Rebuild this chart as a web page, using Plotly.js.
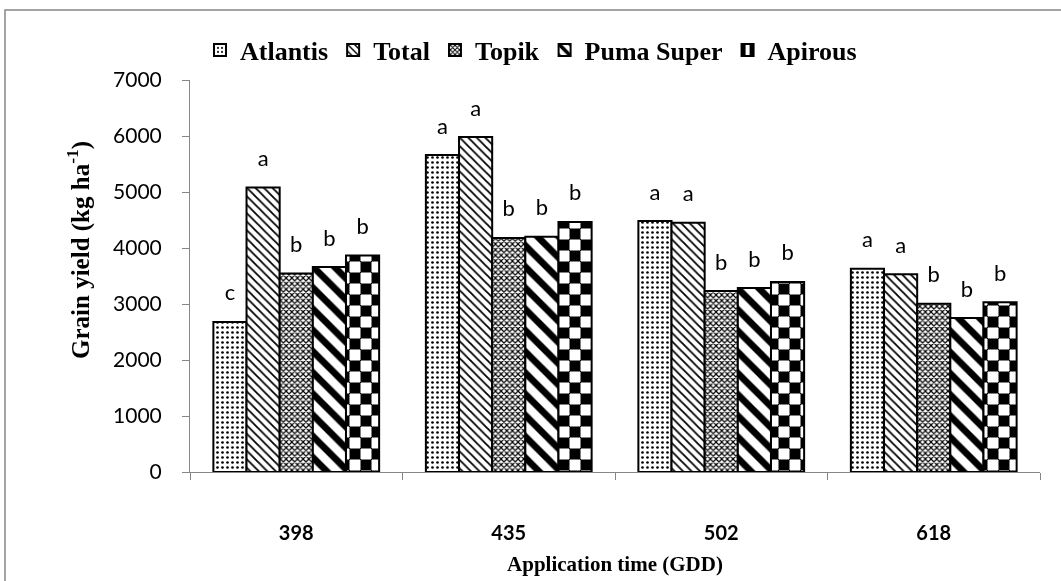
<!DOCTYPE html>
<html>
<head>
<meta charset="utf-8">
<script src="https://cdn.plot.ly/plotly-3.0.1.min.js"></script>
<style>
html,body{margin:0;padding:0;background:#fff;}
#chart{width:1061px;height:581px;}
</style>
</head>
<body>
<div id="chart"></div>
<script>
const categories = ['398', '435', '502', '618'];
const seriesNames = ['Atlantis', 'Total', 'Topik', 'Puma Super', 'Apirous'];
const atlantis  = [2680, 5660, 4480, 3630];
const total     = [5080, 5980, 4450, 3530];
const topik     = [3545, 4180, 3230, 3005];
const pumaSuper = [3660, 4200, 3285, 2750];
const apirous   = [3865, 4465, 3395, 3030];
const letAtlantis  = ['c', 'a', 'a', 'a'];
const letTotal     = ['a', 'a', 'a', 'a'];
const letTopik     = ['b', 'b', 'b', 'b'];
const letPumaSuper = ['b', 'b', 'b', 'b'];
const letApirous   = ['b', 'b', 'b', 'b'];

const values = [atlantis, total, topik, pumaSuper, apirous];
const letters = [letAtlantis, letTotal, letTopik, letPumaSuper, letApirous];
const patterns = [
  {shape: '.', size: 5, solidity: 0.22, fgcolor: '#000', bgcolor: '#fff'},
  {shape: '\\', size: 6, solidity: 0.3, fgcolor: '#000', bgcolor: '#fff'},
  {shape: 'x', size: 4, solidity: 0.5, fgcolor: '#000', bgcolor: '#fff'},
  {shape: '\\', size: 15, solidity: 0.45, fgcolor: '#000', bgcolor: '#fff'},
  {shape: '|', size: 22, solidity: 0.5, fgcolor: '#000', bgcolor: '#fff'}
];

const traces = [];
seriesNames.forEach((name, i) => {
  traces.push({
    type: 'bar', name: name, x: categories, y: values[i],
    offsetgroup: 'g' + i,
    marker: {color: '#fff', line: {color: '#000', width: 2}, pattern: patterns[i]},
    hoverinfo: 'y'
  });
});
// second layer for Apirous: horizontal bands blended by "difference" -> checkerboard
traces.push({
  type: 'bar', name: 'Apirous', x: categories, y: apirous,
  offsetgroup: 'g4', showlegend: false,
  marker: {color: '#000', line: {color: '#000', width: 2},
    pattern: {shape: '-', size: 22, solidity: 0.5, fgcolor: '#fff', bgcolor: '#000'}},
  hoverinfo: 'skip'
});
seriesNames.forEach((name, i) => {
  traces.push({
    type: 'scatter', mode: 'markers+text', x: categories, y: values[i],
    offsetgroup: 'g' + i, orientation: 'v',
    text: letters[i], textposition: 'top center',
    textfont: {family: 'Lato, "Open Sans", sans-serif', size: 22, color: '#000'},
    marker: {size: 24, color: 'rgba(0,0,0,0)'},
    showlegend: false, hoverinfo: 'skip', cliponaxis: false
  });
});

const L = 190, R = 1040, T = 80, B = 472;
const W = R - L, H = B - T;
const px = v => (v - L) / W;
const py = v => (B - v) / H;

const layout = {
  width: 1061, height: 581,
  margin: {l: L, r: 1061 - R, t: T, b: 581 - B, pad: 0},
  paper_bgcolor: '#fff', plot_bgcolor: '#fff',
  barmode: 'group', bargap: 0.22, bargroupgap: 0,
  scattermode: 'group', scattergap: 0.22,
  showlegend: true,
  legend: {
    orientation: 'h', x: px(200), xanchor: 'left', y: py(50), yanchor: 'middle',
    font: {family: '"Liberation Serif", "Times New Roman", serif', size: 26, color: '#000', weight: 'bold'},
    itemwidth: 30, tracegroupgap: 0, bgcolor: 'rgba(0,0,0,0)'
  },
  xaxis: {
    type: 'category', showgrid: false, showline: true, linecolor: '#868686', linewidth: 1,
    ticks: 'outside', tickson: 'boundaries', ticklen: 7, tickcolor: '#868686',
    ticklabelstandoff: 43,
    tickfont: {family: 'Lato, "Open Sans", sans-serif', size: 20, color: '#000', weight: 'bold'},
    title: {text: 'Application time (GDD)', standoff: 13,
      font: {family: '"Liberation Serif", "Times New Roman", serif', size: 21, color: '#000', weight: 'bold'}},
    automargin: false, fixedrange: true
  },
  yaxis: {
    range: [0, 7000], dtick: 1000, showgrid: false, zeroline: false,
    showline: true, linecolor: '#868686', linewidth: 1,
    ticks: 'outside', ticklen: 7, tickcolor: '#868686', ticklabelstandoff: 16,
    tickfont: {family: 'Lato, "Open Sans", sans-serif', size: 21, color: '#000'},
    automargin: false, fixedrange: true
  },
  annotations: [{
    text: 'Grain yield (kg ha<sup>-1</sup>)', textangle: -90, showarrow: false,
    xref: 'paper', yref: 'paper', x: px(78), y: py(250), xanchor: 'center', yanchor: 'middle',
    font: {family: '"Liberation Serif", "Times New Roman", serif', size: 25, color: '#000', weight: 'bold'}
  }],
  shapes: [{
    type: 'rect', xref: 'paper', yref: 'paper',
    x0: px(5), x1: px(1070), y0: py(590), y1: py(10),
    line: {color: '#868686', width: 1.5}, fillcolor: 'rgba(0,0,0,0)', layer: 'below'
  }]
};

function applyBlend(gd) {
  const groups = gd.querySelectorAll('.barlayer .trace');
  groups.forEach(g => {
    const d = g.__data__;
    const tr = d && d[0] && d[0].trace;
    if (tr && tr.index === 5) {
      g.style.mixBlendMode = 'difference';
      g.querySelectorAll('path').forEach(p => { p.style.mixBlendMode = 'difference'; });
    }
  });
}

Plotly.newPlot('chart', traces, layout, {displayModeBar: false, staticPlot: true})
  .then(gd => applyBlend(gd));
</script>
</body>
</html>
